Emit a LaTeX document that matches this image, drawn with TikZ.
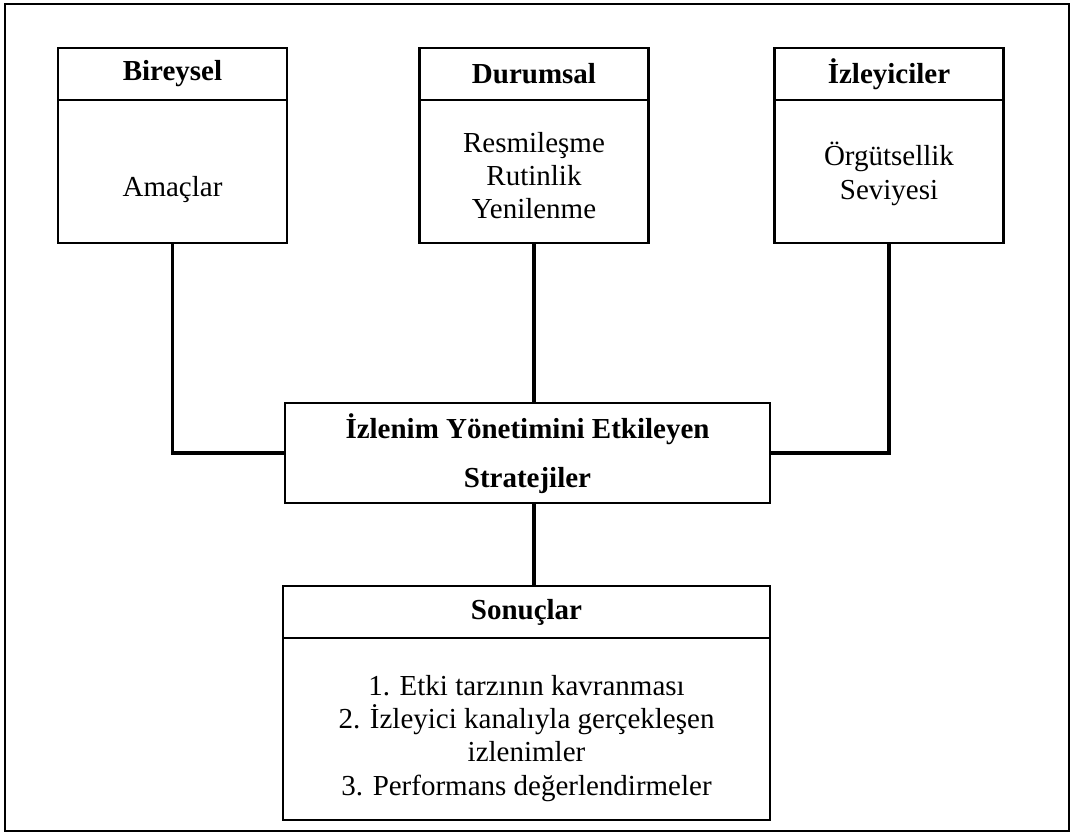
\documentclass[tikz,border=0pt]{standalone}
\usepackage{fontspec}
\setmainfont{Liberation Serif}
\usetikzlibrary{positioning}
\tikzset{
headbox/.style={draw=black, line width=1.2pt, minimum width=4.58cm, minimum height=1.04cm,
                inner sep=0pt, outer sep=0pt, font=\bfseries\fontsize{16.5}{19}\selectfont},
bodybox/.style={draw=black, line width=1.2pt, minimum width=4.58cm, minimum height=2.86cm,
                inner sep=0pt, outer sep=0pt, align=center, font=\fontsize{16.5}{19}\selectfont},
link/.style={line width=1.9pt}
}

\begin{document}
\begin{tikzpicture}[x=0.02cm,y=-0.02cm]
\useasboundingbox (0,0) rectangle (1073,834);
\draw[line width=1.1pt] (5,4) rectangle (1069,831);

% Boxes
\node[headbox] (bireysel) at (172.5,74) {Bireysel};
\node[bodybox, below=0pt of bireysel] (amaclar) {\strut\\Amaçlar};

\node[headbox] (durumsal) at (534,74) {Durumsal};
\node[bodybox, below=0pt of durumsal] (durumsal_body) {\rule{0pt}{16pt}Resmileşme\\Rutinlik\\Yenilenme};

\node[headbox] (izleyiciler) at (889,74) {İzleyiciler};
\node[bodybox, below=0pt of izleyiciler] (orgut) {\rule{0pt}{16pt}Örgütsellik\\Seviyesi};

\node[bodybox, minimum width=9.7cm, minimum height=2cm, font=\bfseries\fontsize{16.5}{19}\selectfont]
  (strateji) at (527.5,453) {\rule{0pt}{15pt}İzlenim Yönetimini Etkileyen\\[9pt]Stratejiler};

\node[headbox, minimum width=9.74cm] (sonuc) at (526.5,612) {Sonuçlar};
\node[bodybox, minimum width=9.74cm, minimum height=3.64cm, below=0pt of sonuc] (sonuc_body)
  {\rule{0pt}{22pt}1. Etki tarzının kavranması\\2. İzleyici kanalıyla gerçekleşen\\izlenimler\\3. Performans değerlendirmeler};

% Lines
\draw[link] (amaclar.south) |- (strateji.west);
\draw[link] (durumsal_body.south) -- (durumsal_body.south |- strateji.north);
\draw[link] (orgut.south) |- (strateji.east);
\draw[link] (strateji.south -| durumsal_body.south) -- (sonuc.north -| durumsal_body.south);

\end{tikzpicture}
\end{document}
